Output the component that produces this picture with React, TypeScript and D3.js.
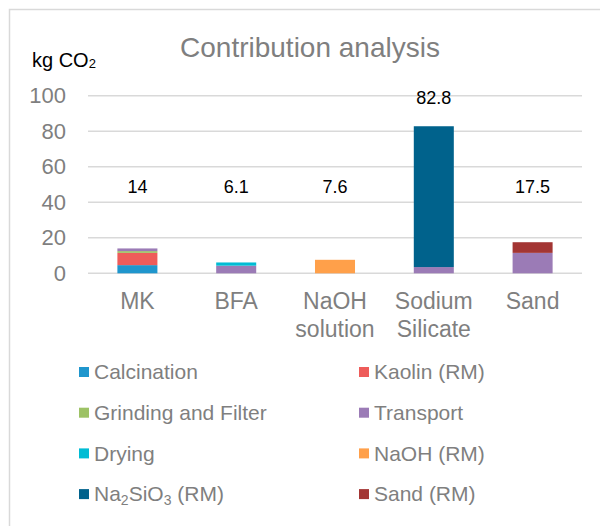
import { scaleBand, scaleLinear, stack } from 'd3';
import React from 'react';

// chart values
const categories = ['MK', 'BFA', 'NaOH solution', 'Sodium Silicate', 'Sand'];
const seriesNames = [
  'Calcination',
  'Kaolin (RM)',
  'Grinding and Filter',
  'Transport',
  'Drying',
  'NaOH (RM)',
  'Na2SiO3 (RM)',
  'Sand (RM)',
];
const calcination = [4.6, 0, 0, 0, 0];
const kaolin = [6.9, 0, 0, 0, 0];
const grinding = [1.0, 0, 0, 0, 0];
const transport = [1.5, 4.3, 0, 3.5, 11.5];
const drying = [0, 1.8, 0, 0, 0];
const naoh = [0, 0, 7.6, 0, 0];
const na2sio3 = [0, 0, 0, 79.3, 0];
const sand = [0, 0, 0, 0, 6.0];
const totalLabels = ['14', '6.1', '7.6', '82.8', '17.5'];
const yTicks = [0, 20, 40, 60, 80, 100];

const seriesValues = [calcination, kaolin, grinding, transport, drying, naoh, na2sio3, sand];
const colors = ['#1f96cd', '#ee5c5a', '#9dc265', '#9b7bb6', '#00bcd4', '#ffa04a', '#00628c', '#a33533'];

const FONT = "'Liberation Sans', Arial, sans-serif";
const GREY = '#7f7f7f';

const App: React.FC = () => {
  const width = 600;
  const height = 526;
  const left = 88;
  const right = 582;
  const top = 95.7;
  const bottom = 273.3;

  const table = categories.map((c, i) => {
    const row: Record<string, number | string> = { category: c };
    seriesNames.forEach((s, j) => {
      row[s] = seriesValues[j][i];
    });
    return row;
  });
  const stacked = stack<Record<string, number | string>>().keys(seriesNames)(table);

  const x = scaleBand<string>()
    .domain(categories)
    .range([left, right])
    .paddingInner(0.595)
    .paddingOuter(0.2975);
  const y = scaleLinear().domain([0, 100]).range([bottom, top]);

  const totals = categories.map((_, i) => seriesValues.reduce((a, s) => a + s[i], 0));
  const cx = (c: string) => (x(c) ?? 0) + x.bandwidth() / 2;

  return (
    <svg
      width={width}
      height={height}
      style={{ position: 'absolute', left: 0, top: 0, background: '#fff' }}
      fontFamily={FONT}
    >
      <rect x={9.5} y={9.5} width={640} height={560} fill="#fff" stroke="#d9d9d9" strokeWidth={1.5} />

      <text x={310} y={57} textAnchor="middle" fontSize={28} fill={GREY}>
        Contribution analysis
      </text>
      <text x={32} y={67} fontSize={20} fill="#000">
        kg CO
        <tspan fontSize={13} dy={1}>2</tspan>
      </text>

      {/* gridlines and y ticks */}
      {yTicks.map((t) => (
        <g key={t}>
          <line x1={left} x2={right} y1={y(t)} y2={y(t)} stroke="#d9d9d9" strokeWidth={1.5} />
          <text x={66} y={y(t)} dy="0.35em" textAnchor="end" fontSize={22} fill={GREY}>
            {t}
          </text>
        </g>
      ))}

      {/* stacked bars */}
      {stacked.map((layer, j) => (
        <g key={layer.key} fill={colors[j]}>
          {layer.map((d, i) =>
            d[1] - d[0] > 0 ? (
              <rect
                key={i}
                x={x(categories[i])}
                width={x.bandwidth()}
                y={y(d[1])}
                height={y(d[0]) - y(d[1])}
              />
            ) : null,
          )}
        </g>
      ))}

      {/* total labels */}
      {categories.map((c, i) => (
        <text
          key={c}
          x={cx(c)}
          y={y(Math.max(totals[i] + 16, 49))}
          dy="0.35em"
          textAnchor="middle"
          fontSize={18}
          fill="#000"
        >
          {totalLabels[i]}
        </text>
      ))}

      {/* category labels */}
      {categories.map((c) => (
        <text key={c} textAnchor="middle" fontSize={23} fill={GREY}>
          {c.split(' ').map((w, k) => (
            <tspan key={k} x={cx(c)} y={309 + k * 28}>
              {w}
            </tspan>
          ))}
        </text>
      ))}

      {/* legend, two columns */}
      {seriesNames.map((s, j) => {
        const mx = j % 2 === 0 ? 79 : 359;
        const cy = 372 + Math.floor(j / 2) * 40.7;
        return (
          <g key={s}>
            <rect x={mx} y={cy - 5} width={10} height={10} fill={colors[j]} />
            <text x={mx + 15} y={cy} dy="0.35em" fontSize={21} fill={GREY}>
              {s === 'Na2SiO3 (RM)' ? (
                <>
                  Na
                  <tspan fontSize={14} dy={4}>2</tspan>
                  <tspan dy={-4}>SiO</tspan>
                  <tspan fontSize={14} dy={4}>3</tspan>
                  <tspan dy={-4}> (RM)</tspan>
                </>
              ) : (
                s
              )}
            </text>
          </g>
        );
      })}
    </svg>
  );
};

export default App;
